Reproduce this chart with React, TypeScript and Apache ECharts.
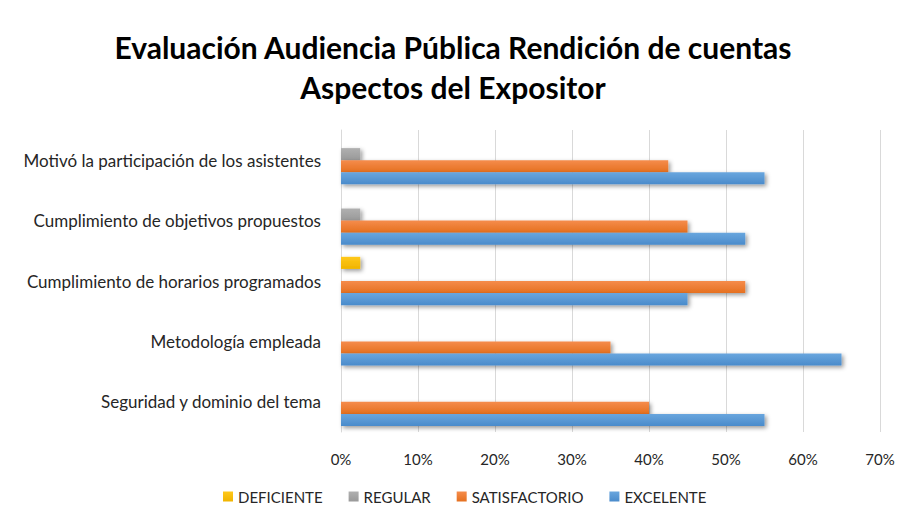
import React, { useEffect, useRef } from "react";
import * as echarts from "echarts";

const categories = [
  "Seguridad y dominio del tema",
  "Metodología empleada",
  "Cumplimiento de horarios programados",
  "Cumplimiento de objetivos propuestos",
  "Motivó la participación de los asistentes",
];
const deficiente = [0, 0, 2.5, 0, 0];
const regular = [0, 0, 0, 2.5, 2.5];
const satisfactorio = [40, 35, 52.5, 45, 42.5];
const excelente = [55, 65, 45, 52.5, 55];
const legendNames = ["DEFICIENTE", "REGULAR", "SATISFACTORIO", "EXCELENTE"];

const FONT = "Lato";

function grad(top: string, bottom: string) {
  return new echarts.graphic.LinearGradient(0, 0, 0, 1, [
    { offset: 0, color: top },
    { offset: 1, color: bottom },
  ]);
}

export default function App() {
  const ref = useRef<HTMLDivElement>(null);
  useEffect(() => {
    if (!ref.current) return;
    const chart = echarts.init(ref.current, undefined, { renderer: "svg" });
    const shadow = {
      shadowColor: "rgba(0,0,0,0.4)",
      shadowBlur: 4,
      shadowOffsetX: 2,
      shadowOffsetY: 2,
    };
    const mk = (name: string, data: number[], top: string, bottom: string, legendColor: string) => ({
      name,
      type: "bar",
      data,
      barGap: "0%",
      barCategoryGap: "20%",
      color: legendColor,
      itemStyle: { color: grad(top, bottom), ...shadow },
    });
    chart.setOption({
      animation: false,
      backgroundColor: "#fff",
      title: {
        text: "Evaluación Audiencia Pública Rendición de cuentas\nAspectos del Expositor",
        left: "center",
        top: 22,
        textStyle: {
          fontFamily: FONT,
          fontSize: 30,
          fontWeight: "bold",
          color: "#000",
          lineHeight: 40,
        },
      },
      graphic: [
        {
          type: "rect",
          shape: { x: 5.5, y: 7.5, width: 896, height: 530 },
          style: { fill: "none", stroke: "#d9d9d9", lineWidth: 1 },
          silent: true,
          z: -1,
        },
      ],
      legend: {
        data: legendNames,
        left: 218,
        top: 484,
        itemWidth: 10,
        itemHeight: 10,
        itemGap: 26,
        icon: "rect",
        textStyle: { fontFamily: FONT, fontSize: 15, color: "#262626" },
      },
      grid: { left: 341, right: 26, top: 130, bottom: 88, containLabel: false },
      xAxis: {
        type: "value",
        min: 0,
        max: 70,
        interval: 10,
        axisLabel: {
          formatter: "{value}%",
          fontFamily: FONT,
          fontSize: 15,
          color: "#262626",
          margin: 19,
        },
        axisLine: { show: false },
        axisTick: { show: false },
        splitLine: { lineStyle: { color: "#d9d9d9", width: 1 } },
      },
      yAxis: {
        type: "category",
        data: categories,
        axisLabel: {
          fontFamily: FONT,
          fontSize: 17,
          color: "#262626",
          margin: 20,
        },
        axisLine: { show: true, lineStyle: { color: "#d9d9d9" } },
        axisTick: { show: false },
      },
      series: [
        mk("DEFICIENTE", deficiente, "#ffc81a", "#f0b400", "#FFC000"),
        mk("REGULAR", regular, "#b0b0b0", "#999999", "#A5A5A5"),
        mk("SATISFACTORIO", satisfactorio, "#f58c4c", "#e5701f", "#ED7D31"),
        mk("EXCELENTE", excelente, "#69a6de", "#4a8bcb", "#5B9BD5"),
      ],
    });
    return () => chart.dispose();
  }, []);
  return <div ref={ref} style={{ width: 906, height: 520, margin: -8 }} />;
}
